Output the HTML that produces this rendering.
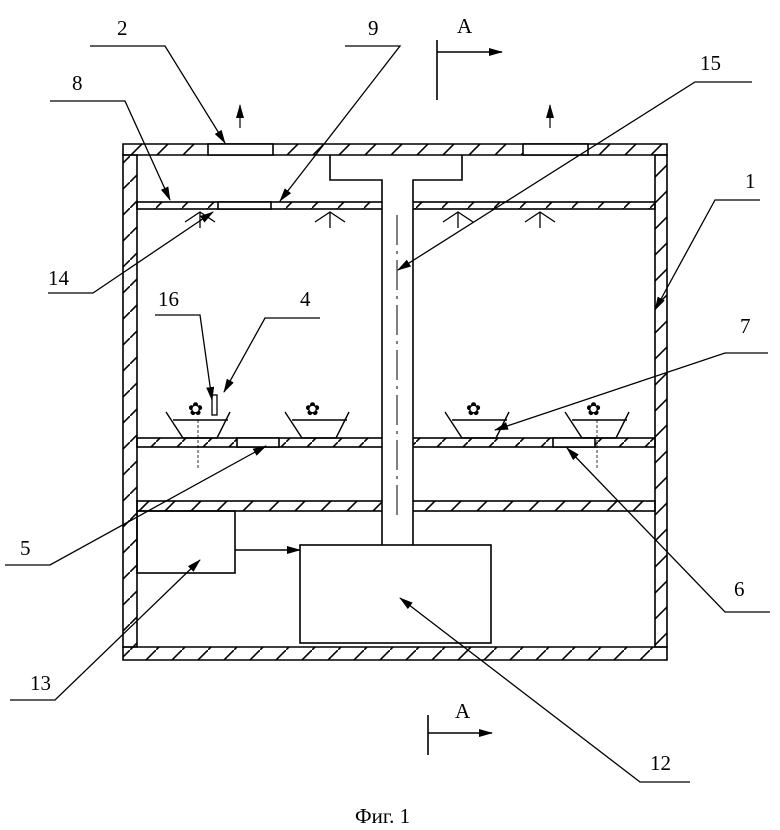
<!DOCTYPE html>
<html><head><style>body{margin:0;background:#fff}svg{display:block}</style></head><body>
<svg width="780" height="830" viewBox="0 0 780 830" xmlns="http://www.w3.org/2000/svg" font-family="Liberation Serif, serif">
<defs>
<pattern id="h" patternUnits="userSpaceOnUse" width="26" height="26">
<path d="M-2,28 L28,-2" stroke="#000" stroke-width="1.6"/>
</pattern>
<marker id="a" markerWidth="14" markerHeight="8" refX="13" refY="4" orient="auto" markerUnits="userSpaceOnUse"><path d="M0,0 L14,4 L0,8 Z" fill="#000"/></marker>
</defs>
<g stroke="#000" stroke-width="1.6" fill="none">
<!-- walls -->
<path d="M123,144h544v11h-544z M123,647h544v13h-544z" fill="url(#h)"/>
<path d="M123,155h14v492h-14z M655,155h12v492h-12z" fill="url(#h)"/>
<rect x="208" y="144" width="65" height="11" fill="#fff"/>
<rect x="523" y="144" width="65" height="11" fill="#fff"/>
<!-- shelves -->
<rect x="137" y="202" width="518" height="7" fill="url(#h)"/>
<rect x="218" y="202" width="53" height="7" fill="#fff"/>
<rect x="137" y="438" width="518" height="9" fill="url(#h)"/>
<rect x="237" y="438" width="42" height="9" fill="#fff"/>
<rect x="553" y="438" width="42" height="9" fill="#fff"/>
<rect x="137" y="501" width="518" height="10" fill="url(#h)"/>
<!-- pipe -->
<rect x="382" y="180" width="31" height="365" fill="#fff" stroke="none"/>
<path d="M330,155V180H382V545 M413,545V180H462V155"/>
<line x1="397" y1="215" x2="397" y2="520" stroke-width="1" stroke-dasharray="30,6,3,6"/>
<!-- boxes -->
<rect x="300" y="545" width="191" height="98" fill="#fff"/>
<rect x="137" y="511" width="98" height="62"/>
<line x1="235" y1="550" x2="300" y2="550" marker-end="url(#a)"/>
<!-- sprinklers -->
<g stroke-width="1.3">
<path d="M185,222L200,212L215,222 M200,212V228"/>
<path d="M315,222L330,212L345,222 M330,212V228"/>
<path d="M443,222L458,212L473,222 M458,212V228"/>
<path d="M525,222L540,212L555,222 M540,212V228"/>
</g>
<!-- pots -->
<g stroke-width="1.4">
<path d="M166,412L183,438H217L230,412 M173,420H228"/>
<path d="M285,412L302,438H336L349,412 M292,420H347"/>
<path d="M445,412L462,438H496L509,412 M452,420H507"/>
<path d="M565,412L582,438H616L629,412 M572,420H627"/>
</g>
<g stroke-width="0.8" stroke-dasharray="3,2"><line x1="198" y1="420" x2="198" y2="468"/><line x1="597" y1="420" x2="597" y2="468"/></g>
<!-- up arrows -->
<line x1="240" y1="128" x2="240" y2="105" marker-end="url(#a)" stroke-width="1.2"/>
<line x1="550" y1="128" x2="550" y2="105" marker-end="url(#a)" stroke-width="1.2"/>
<!-- section marks -->
<path d="M437,40V100"/><line x1="437" y1="52" x2="502" y2="52" marker-end="url(#a)"/>
<path d="M428,715V755"/><line x1="428" y1="733" x2="492" y2="733" marker-end="url(#a)"/>
<!-- leaders -->
<g stroke-width="1.3">
<path d="M90,46H165L225,143" marker-end="url(#a)"/>
<path d="M345,46H400L280,201" marker-end="url(#a)"/>
<path d="M50,101H125L170,200" marker-end="url(#a)"/>
<path d="M752,82H695L398,270" marker-end="url(#a)"/>
<path d="M760,200H715L655,310" marker-end="url(#a)"/>
<path d="M48,293H93L213,212" marker-end="url(#a)"/>
<path d="M155,315H200L212,400" marker-end="url(#a)"/>
<path d="M320,318H265L224,392" marker-end="url(#a)"/>
<path d="M768,353H725L495,430" marker-end="url(#a)"/>
<path d="M5,565H50L266,446" marker-end="url(#a)"/>
<path d="M770,612H725L567,448" marker-end="url(#a)"/>
<path d="M10,700H55L200,560" marker-end="url(#a)"/>
<path d="M690,782H640L400,598" marker-end="url(#a)"/>
</g>
</g>
<g font-size="21" fill="#000">
<text x="117" y="35">2</text><text x="368" y="35">9</text><text x="457" y="33">A</text>
<text x="700" y="70">15</text><text x="72" y="90">8</text><text x="745" y="188">1</text>
<text x="48" y="285">14</text><text x="158" y="306">16</text><text x="300" y="306">4</text>
<text x="740" y="333">7</text><text x="20" y="555">5</text><text x="734" y="596">6</text>
<text x="30" y="690">13</text><text x="455" y="718">A</text><text x="650" y="770">12</text>
<text x="355" y="823">Фиг. 1</text>
</g>
<g fill="#000">
<text x="188" y="415" font-size="18">✿</text><text x="305" y="415" font-size="18">✿</text>
<text x="466" y="415" font-size="18">✿</text><text x="586" y="415" font-size="18">✿</text>
</g>
<rect x="212" y="395" width="5" height="20" fill="none" stroke="#000" stroke-width="1.3"/>
</svg>
</body></html>
